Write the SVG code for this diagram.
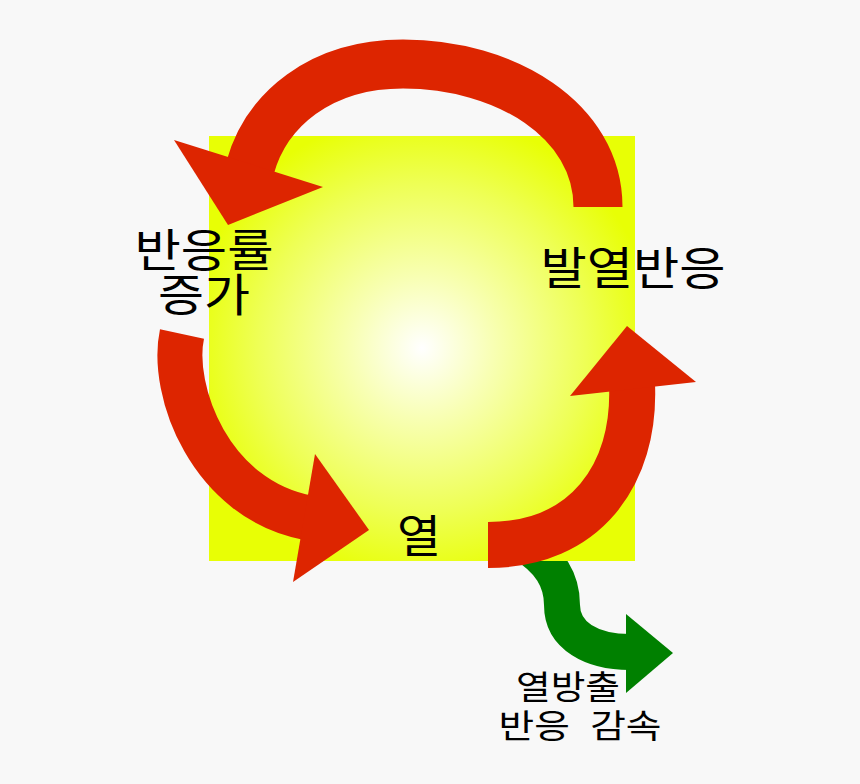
<svg xmlns="http://www.w3.org/2000/svg" width="860" height="784" viewBox="0 0 860 784">
  <defs>
    <radialGradient id="glow" gradientUnits="userSpaceOnUse" cx="422" cy="348" r="235">
      <stop offset="0" stop-color="#ffffff"/>
      <stop offset="0.3" stop-color="#f8ffb4"/>
      <stop offset="0.7" stop-color="#eeff55"/>
      <stop offset="1" stop-color="#e8ff05"/>
    </radialGradient>
    <style>
      .red { fill: none; stroke: #dd2500; stroke-linecap: butt; }
      .redhead { fill: #dd2500; }
      .green { fill: none; stroke: #008000; stroke-width: 36; }
      .greenhead { fill: #008000; }
      .lbl { font-family: "Noto Sans CJK KR", "Noto Sans", sans-serif; fill: #000000; text-anchor: middle; }
      .big { font-size: 45px; }
      .small { font-size: 33px; }
    </style>
  </defs>
  <rect width="860" height="784" fill="#f8f8f8"/>

  <g id="connectors">
    <g id="heat-release-arrow">
      <path class="green" d="M 522,543 C 550,560 562,580 562,605 C 562,636 592,652 630,652"/>
      <polygon class="greenhead" points="626,614 673,653 626,693"/>
    </g>
  </g>

  <g id="heat-box">
    <rect x="209" y="136" width="426" height="425" fill="url(#glow)"/>
  </g>

  <g id="red-cycle">
    <g id="arrow-top">
      <path class="red" stroke-width="49" d="M 598,207 C 598,120 505,64 403,64 C 320,64 266,110 250,168"/>
      <polygon class="redhead" points="174,140 323,187 228,225"/>
    </g>
    <g id="arrow-left">
      <path class="red" stroke-width="45" d="M 182,334 C 170,390 210,500 309,518"/>
      <polygon class="redhead" points="315,454 369,530 293,582"/>
    </g>
    <g id="arrow-right">
      <path class="red" stroke-width="46" d="M 488,545 C 585,545 636,475 632,384"/>
      <polygon class="redhead" points="570,396 627,326 696,382"/>
    </g>
  </g>

  <g id="node-rate">
    <text class="lbl big" x="204" y="267" textLength="139" lengthAdjust="spacingAndGlyphs">반응률</text>
    <text class="lbl big" x="204" y="312" textLength="92" lengthAdjust="spacingAndGlyphs">증가</text>
  </g>
  <g id="node-exo">
    <text class="lbl big" x="633" y="285" textLength="185" lengthAdjust="spacingAndGlyphs">발열반응</text>
  </g>
  <g id="node-heat">
    <text class="lbl big" x="419" y="553" textLength="44" lengthAdjust="spacingAndGlyphs">열</text>
  </g>
  <g id="node-release">
    <text class="lbl small" x="568" y="699" textLength="104" lengthAdjust="spacingAndGlyphs">열방출</text>
    <text class="lbl small" x="580" y="738" textLength="163" lengthAdjust="spacingAndGlyphs" word-spacing="10">반응 감속</text>
  </g>
</svg>
